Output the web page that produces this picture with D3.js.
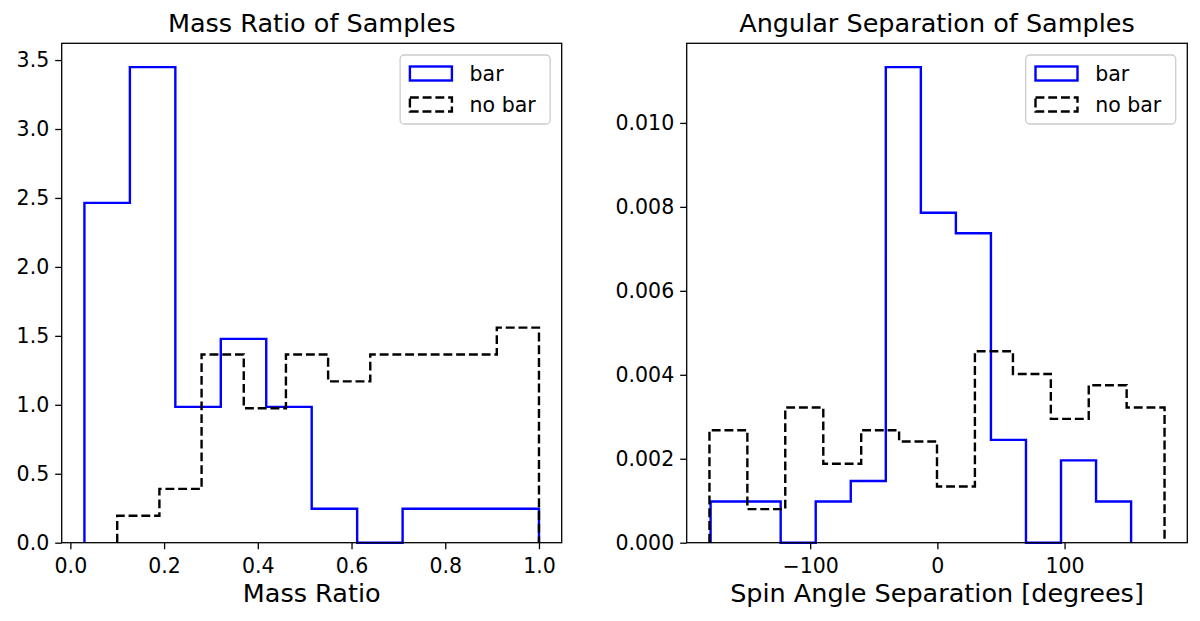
<!DOCTYPE html>
<html>
<head>
<meta charset="utf-8">
<script src="https://cdn.jsdelivr.net/npm/d3@7"></script>
<style>
  html, body { margin: 0; padding: 0; background: #fff; }
  svg { display: block; font-family: "DejaVu Sans", sans-serif; }
</style>
</head>
<body>
<svg id="chart" width="1200" height="621"></svg>
<script>
// ---------- data ----------
const massTitle = "Mass Ratio of Samples";
const massXLabel = "Mass Ratio";
const massBarEdges = [0.030, 0.127, 0.224, 0.321, 0.418, 0.515, 0.612, 0.709, 0.806, 0.903, 1.000];
const massBarDensity = [2.464, 3.449, 0.985, 1.478, 0.985, 0.246, 0.0, 0.246, 0.246, 0.246];
const massNoBarEdges = [0.100, 0.190, 0.280, 0.370, 0.460, 0.550, 0.640, 0.730, 0.820, 0.910, 1.000];
const massNoBarDensity = [0.195, 0.390, 1.365, 0.975, 1.365, 1.170, 1.365, 1.365, 1.365, 1.560];
const massXTicks = [0.0, 0.2, 0.4, 0.6, 0.8, 1.0];
const massYTicks = [0.0, 0.5, 1.0, 1.5, 2.0, 2.5, 3.0, 3.5];

const angleTitle = "Angular Separation of Samples";
const angleXLabel = "Spin Angle Separation [degrees]";
const angleBarEdges = [-178.3, -150.75, -123.2, -95.65, -68.1, -40.55, -13.0, 14.55, 42.1, 69.65, 97.2, 124.75, 152.3];
const angleBarDensity = [0.00098, 0.00098, 0.0, 0.00098, 0.00147, 0.01133, 0.00786, 0.00737, 0.00245, 0.0, 0.00196, 0.00098];
const angleNoBarEdges = [-179.2, -149.4, -119.6, -89.7, -59.9, -30.1, -0.3, 29.5, 59.4, 89.2, 119.0, 148.8, 178.6];
const angleNoBarDensity = [0.00268, 0.00080, 0.00322, 0.00188, 0.00268, 0.00241, 0.00134, 0.00456, 0.00402, 0.00295, 0.00375, 0.00322];
const angleXTicks = [-100, 0, 100];
const angleYTicks = [0.000, 0.002, 0.004, 0.006, 0.008, 0.010];

const legendLabels = ["bar", "no bar"];

// ---------- drawing ----------
const svg = d3.select("#chart");
const TICK_FS = 20.5, TITLE_FS = 25.5, LABEL_FS = 25.5, LEG_FS = 20.5;
const BLUE = "#0000ff";

function stepPoints(edges, vals) {
  const pts = [[edges[0], 0]];
  vals.forEach((v, i) => { pts.push([edges[i], v]); pts.push([edges[i + 1], v]); });
  pts.push([edges[edges.length - 1], 0]);
  return pts;
}

function panel(cfg) {
  const { left, top, width, height } = cfg;
  const g = svg.append("g");
  const allEdges = cfg.series[0].edges.concat(cfg.series[1].edges);
  const [xmin, xmax] = d3.extent(allEdges);
  const pad = (xmax - xmin) * 0.05;
  const ymax = d3.max(cfg.series[0].vals.concat(cfg.series[1].vals)) * 1.05;

  const x = d3.scaleLinear().domain([xmin - pad, xmax + pad]).range([left, left + width]);
  const y = d3.scaleLinear().domain([0, ymax]).range([top + height, top]);

  const clipId = "clip" + cfg.id;
  svg.append("defs").append("clipPath").attr("id", clipId)
    .append("rect").attr("x", left).attr("y", top - 2).attr("width", width).attr("height", height + 4);

  const line = d3.line().x(d => x(d[0])).y(d => y(d[1]));
  cfg.series.forEach(s => {
    g.append("path")
      .attr("d", line(stepPoints(s.edges, s.vals)))
      .attr("fill", "none")
      .attr("stroke", s.color)
      .attr("stroke-width", 2.4)
      .attr("stroke-dasharray", s.dash ? "8.9,3.85" : null)
      .attr("stroke-linejoin", "miter")
      .attr("clip-path", `url(#${clipId})`);
  });

  // axes
  const xAxis = d3.axisBottom(x).tickValues(cfg.xTicks).tickFormat(cfg.xFmt).tickSizeInner(6.5).tickSizeOuter(0).tickPadding(4);
  const yAxis = d3.axisLeft(y).tickValues(cfg.yTicks).tickFormat(cfg.yFmt).tickSizeInner(6.5).tickSizeOuter(0).tickPadding(6);
  const gx = g.append("g").attr("transform", `translate(0,${top + height})`).call(xAxis);
  const gy = g.append("g").attr("transform", `translate(${left},0)`).call(yAxis);
  [gx, gy].forEach(a => {
    a.select(".domain").remove();
    a.selectAll(".tick line").attr("stroke", "#000").attr("stroke-width", 1.3);
    a.selectAll(".tick text").attr("font-size", TICK_FS).attr("fill", "#000")
      .attr("font-family", "DejaVu Sans");
  });
  gx.selectAll(".tick text").attr("dy", "0.95em");

  // frame
  g.append("rect").attr("x", left).attr("y", top).attr("width", width).attr("height", height)
    .attr("fill", "none").attr("stroke", "#000").attr("stroke-width", 1.3);

  // title and x label
  g.append("text").attr("x", left + width / 2).attr("y", top - 11.5)
    .attr("text-anchor", "middle").attr("font-size", TITLE_FS).attr("fill", "#000").text(cfg.title);
  g.append("text").attr("x", left + width / 2).attr("y", top + height + 59)
    .attr("text-anchor", "middle").attr("font-size", LABEL_FS).attr("fill", "#000").text(cfg.xLabel);

  // legend
  const lw = 150, lh = 69;
  const lx = left + width - 11.6 - lw, ly = top + 11.7;
  const lg = g.append("g");
  lg.append("rect").attr("x", lx).attr("y", ly).attr("width", lw).attr("height", lh)
    .attr("rx", 4).attr("ry", 4).attr("fill", "#fff").attr("fill-opacity", 0.8)
    .attr("stroke", "#cccccc").attr("stroke-width", 1.3);
  cfg.series.forEach((s, i) => {
    const cy = ly + 18.5 + i * 31;
    lg.append("rect").attr("x", lx + 9.8).attr("y", cy - 7).attr("width", 42).attr("height", 14)
      .attr("fill", "none").attr("stroke", s.color).attr("stroke-width", 2.4)
      .attr("stroke-dasharray", s.dash ? "8.9,3.85" : null);
    lg.append("text").attr("x", lx + 69.5).attr("y", cy + 7).attr("font-size", LEG_FS)
      .attr("fill", "#000").text(legendLabels[i]);
  });
}

panel({
  id: "mass", left: 61.7, top: 43.3, width: 500, height: 499.4,
  title: massTitle, xLabel: massXLabel,
  xTicks: massXTicks, yTicks: massYTicks,
  xFmt: d3.format(".1f"), yFmt: d3.format(".1f"),
  series: [
    { edges: massBarEdges, vals: massBarDensity, color: BLUE, dash: false },
    { edges: massNoBarEdges, vals: massNoBarDensity, color: "#000", dash: true }
  ]
});

panel({
  id: "angle", left: 686.7, top: 43.3, width: 500.6, height: 499.4,
  title: angleTitle, xLabel: angleXLabel,
  xTicks: angleXTicks, yTicks: angleYTicks,
  xFmt: d3.format("d"), yFmt: d3.format(".3f"),
  series: [
    { edges: angleBarEdges, vals: angleBarDensity, color: BLUE, dash: false },
    { edges: angleNoBarEdges, vals: angleNoBarDensity, color: "#000", dash: true }
  ]
});
</script>
</body>
</html>
